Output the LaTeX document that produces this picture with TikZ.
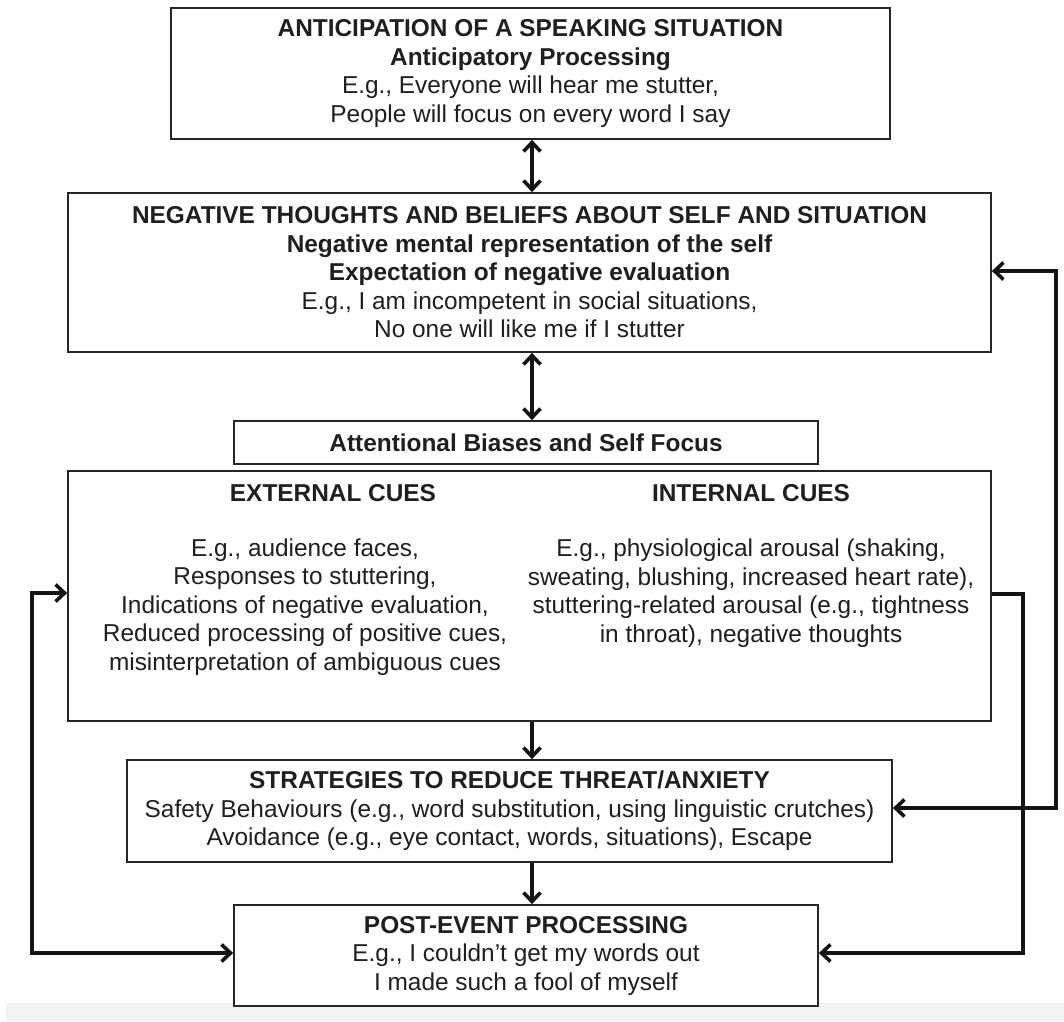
\documentclass[tikz,border=0pt]{standalone}
\usepackage{fontspec}
\setmainfont{Liberation Sans}
\usetikzlibrary{arrows.meta,calc}
\begin{document}
\begin{tikzpicture}[x=1pt,y=-1pt,
  box/.style={draw=black!85, line width=1.7pt, fill=white, inner sep=0pt, align=center,
    font=\fontsize{24.4}{28.5}\selectfont, text=black!88},
  txt/.style={inner sep=0pt, align=center, font=\fontsize{24.4}{28.5}\selectfont, text=black!88},
  conn/.style={line width=3.6pt, draw=black!92, -{Straight Barb[length=9pt,width=17pt]}},
  dconn/.style={line width=3.6pt, draw=black!92, {Straight Barb[length=9pt,width=17pt]}-{Straight Barb[length=9pt,width=17pt]}}
]
\useasboundingbox (0,0) rectangle (1064,1021);
\fill[black!5] (6,1003) rectangle (1064,1021);

\node[box, minimum width=719, minimum height=131] (box1) at (530.5,73.5)
  {\textbf{ANTICIPATION OF A SPEAKING SITUATION}\\
   \textbf{Anticipatory Processing}\\
   E.g., Everyone will hear me stutter,\\
   People will focus on every word I say};

\node[box, minimum width=923, minimum height=159] (box2) at (529.5,272.5)
  {\textbf{NEGATIVE THOUGHTS AND BELIEFS ABOUT SELF AND SITUATION}\\
   \textbf{Negative mental representation of the self}\\
   \textbf{Expectation of negative evaluation}\\
   E.g., I am incompetent in social situations,\\
   No one will like me if I stutter};

\node[box, minimum width=584, minimum height=43] (att) at (526,442.5)
  {\textbf{Attentional Biases and Self Focus}};

\node[box, minimum width=923, minimum height=250] (cues) at (529.5,596) {};
\node[txt] (exth) at (333,493) {\textbf{EXTERNAL CUES}};
\node[txt] (extb) at (305,607)
  {E.g., audience faces,\\
   Responses to stuttering,\\
   Indications of negative evaluation,\\
   Reduced processing of positive cues,\\
   misinterpretation of ambiguous cues};
\node[txt] (inth) at (751,493) {\textbf{INTERNAL CUES}};
\node[txt] (intb) at (751,593)
  {E.g., physiological arousal (shaking,\\
   sweating, blushing, increased heart rate),\\
   stuttering-related arousal (e.g., tightness\\
   in throat), negative thoughts};

\node[box, minimum width=765, minimum height=102] (strat) at (509.5,811)
  {\textbf{STRATEGIES TO REDUCE THREAT/ANXIETY}\\
   Safety Behaviours (e.g., word substitution, using linguistic crutches)\\
   Avoidance (e.g., eye contact, words, situations), Escape};

\node[box, minimum width=584, minimum height=101] (post) at (526,955.5)
  {\textbf{POST-EVENT PROCESSING}\\
   E.g., I couldn't get my words out\\
   I made such a fool of myself};

% axis for vertical connectors
\coordinate (ax) at (532,0);
\draw[dconn] (box1.south -| ax) -- (box2.north -| ax);
\draw[dconn] (box2.south -| ax) -- (att.north -| ax);
\draw[conn] (cues.south -| ax) -- (strat.north -| ax);
\draw[conn] (strat.south -| ax) -- (post.north -| ax);

% right outer loop
\coordinate (r1) at (1056,271);
\coordinate (r2) at (1056,808);
\draw[dconn] (r1 -| box2.east) -- (r1) -- (r2) -- (r2 -| strat.east);

% right inner line
\coordinate (i1) at (1023,594);
\coordinate (i2) at (1023,953);
\draw[conn] (i1 -| cues.east) -- (i1) -- (i2) -- (i2 -| post.east);

% left loop
\coordinate (l1) at (32,593);
\coordinate (l2) at (32,953);
\draw[dconn] (l1 -| cues.west) -- (l1) -- (l2) -- (l2 -| post.west);
\end{tikzpicture}
\end{document}
